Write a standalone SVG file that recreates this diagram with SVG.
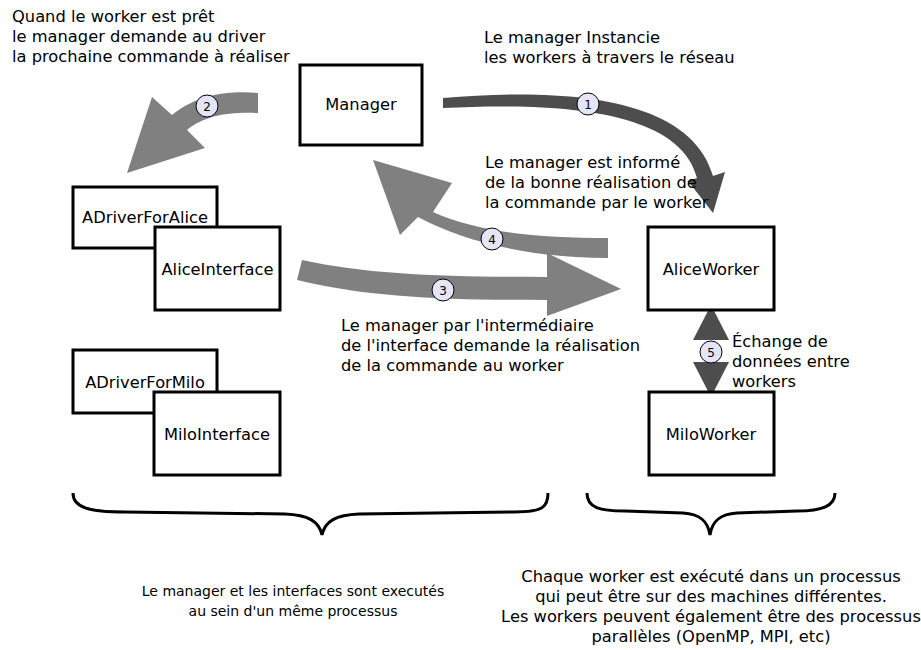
<svg xmlns="http://www.w3.org/2000/svg" width="921" height="650" viewBox="0 0 921 650">
  <style>
    text { font-family: "DejaVu Sans", "Liberation Sans", sans-serif; font-size: 16.3px; fill: #000; }
    .box { fill: #fff; stroke: #000; stroke-width: 3; }
    .mid { text-anchor: middle; }
    .small { font-size: 14px; }
    .light { fill: #808080; }
    .dark { fill: #4d4d4d; }
    .badge circle { fill: #e5e5f8; stroke: #000; stroke-width: 1; }
    .badge text { font-size: 12px; text-anchor: middle; }
    .brace { fill: none; stroke: #000; stroke-width: 3; }
  </style>

  <!-- connectors -->
  <g id="connectors">
    <!-- 1: manager instantiates the workers -->
    <path class="dark" d="M443,98 C560,88 690,95 713,176 L725,172 L713,213 L688,181 L697,178 C680,110 560,102 443,108 Z"/>
    <!-- 2: manager asks the driver -->
    <path class="light" d="M258,93 C235,91 200,92 172,115 L152,97 L127,173 L205,148 L187,130 C205,116 225,112 258,113 Z"/>
    <!-- 4: worker reports back to the manager -->
    <path class="light" d="M608,238 C540,238 480,233 433,212 L452,183 L373,160 L400,235 L418,217 C470,245 540,258 608,258 Z"/>
    <!-- 3: interface forwards the command to the worker -->
    <path class="light" d="M302,260 C370,275 450,277 547,277 L547,253 L621,289 L547,316 L547,300 C450,300 370,298 297,280 Z"/>
    <!-- 5: data exchange between workers -->
    <path class="dark" d="M711,305 L729,340 L693,340 Z"/>
    <path class="dark" d="M693,362 L729,362 L711,397 Z"/>

    <g class="badge"><circle cx="588" cy="104" r="11"/><text x="588" y="108.5">1</text></g>
    <g class="badge"><circle cx="207" cy="106" r="11"/><text x="207" y="110.5">2</text></g>
    <g class="badge"><circle cx="443" cy="290" r="11"/><text x="443" y="294.5">3</text></g>
    <g class="badge"><circle cx="492" cy="239" r="11"/><text x="492" y="243.5">4</text></g>
    <g class="badge"><circle cx="711" cy="352" r="11"/><text x="711" y="356.5">5</text></g>
  </g>

  <!-- nodes -->
  <g id="manager">
    <rect class="box" x="300" y="65" width="122" height="80"/>
    <text class="mid" x="361" y="110">Manager</text>
  </g>
  <g id="adriver-alice">
    <rect class="box" x="73" y="187" width="144" height="61"/>
    <text class="mid" x="145" y="223">ADriverForAlice</text>
  </g>
  <g id="alice-interface">
    <rect class="box" x="155" y="227" width="125" height="83"/>
    <text class="mid" x="217.5" y="275">AliceInterface</text>
  </g>
  <g id="adriver-milo">
    <rect class="box" x="73" y="350" width="144" height="63"/>
    <text class="mid" x="145" y="388">ADriverForMilo</text>
  </g>
  <g id="milo-interface">
    <rect class="box" x="154" y="392" width="126" height="83"/>
    <text class="mid" x="217" y="440">MiloInterface</text>
  </g>
  <g id="alice-worker">
    <rect class="box" x="648" y="227" width="126" height="83"/>
    <text class="mid" x="711" y="275">AliceWorker</text>
  </g>
  <g id="milo-worker">
    <rect class="box" x="649" y="392" width="125" height="83"/>
    <text class="mid" x="711" y="440">MiloWorker</text>
  </g>

  <!-- grouping braces -->
  <g id="braces">
    <path class="brace" d="M73,493 C73,508 90,512 125,512 L285,514 C308,515 319,521 322,535 C325,521 336,515 359,514 L515,512 C544,512 548,506 548,493"/>
    <path class="brace" d="M587,493 C587,508 600,511 625,511 L683,513 C700,514 708,521 710,535 C712,521 720,514 737,513 L797,511 C822,511 835,506 835,493"/>
  </g>

  <!-- annotations -->
  <g id="notes">
    <text x="12" y="22">Quand le worker est prêt</text>
    <text x="12" y="42">le manager demande au driver</text>
    <text x="12" y="62">la prochaine commande à réaliser</text>

    <text x="484" y="43">Le manager Instancie</text>
    <text x="484" y="63">les workers à travers le réseau</text>

    <text x="485" y="168">Le manager est informé</text>
    <text x="485" y="188">de la bonne réalisation de</text>
    <text x="485" y="208">la commande par le worker</text>

    <text x="341" y="331">Le manager par l'intermédiaire</text>
    <text x="341" y="351">de l'interface demande la réalisation</text>
    <text x="341" y="371">de la commande au worker</text>

    <text x="732" y="347">Échange de</text>
    <text x="732" y="367">données entre</text>
    <text x="732" y="387">workers</text>

    <text class="mid small" x="293" y="596">Le manager et les interfaces sont executés</text>
    <text class="mid small" x="293" y="616">au sein d'un même processus</text>

    <text class="mid" x="711" y="582">Chaque worker est exécuté dans un processus</text>
    <text class="mid" x="711" y="602">qui peut être sur des machines différentes.</text>
    <text class="mid" x="711" y="622">Les workers peuvent également être des processus</text>
    <text class="mid" x="711" y="642">parallèles (OpenMP, MPI, etc)</text>
  </g>
</svg>
